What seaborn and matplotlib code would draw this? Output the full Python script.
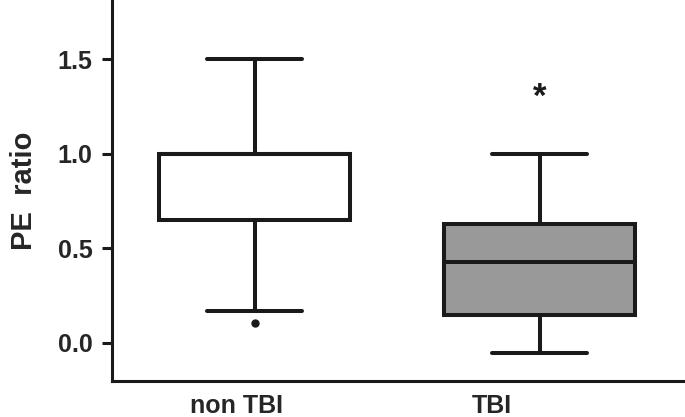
import matplotlib
matplotlib.use("Agg")
import matplotlib.pyplot as plt
import matplotlib.transforms as mtransforms
import seaborn as sns
import pandas as pd

# raw observations estimated so the box statistics match the figure
groups = ["non TBI", "TBI"]
non_tbi = [0.106, 0.165, 0.65, 0.80, 1.0, 1.0, 1.0, 1.20, 1.50]
tbi = [-0.057, 0.10, 0.144, 0.30, 0.426, 0.50, 0.63, 0.80, 1.0]
fills = ["#ffffff", "#999999"]
star_y = 1.335

df = pd.DataFrame({
    "group": [groups[0]] * len(non_tbi) + [groups[1]] * len(tbi),
    "ratio": non_tbi + tbi,
})

sns.set_style("ticks")
plt.rcParams["font.family"] = ["Liberation Sans", "DejaVu Sans"]
plt.rcParams["font.weight"] = "bold"

fig = plt.figure(figsize=(6.85, 4.17), dpi=100)
ax = fig.add_axes([0.1635, 0.086, 0.8365, 0.914])

ink = "#1a1a1a"
lw = 2.9
sns.boxplot(data=df, x="group", y="ratio", hue="group", palette=fills,
            order=groups, width=0.67, linewidth=lw, linecolor=ink,
            legend=False, ax=ax,
            flierprops=dict(marker="o", markersize=5, markerfacecolor=ink,
                            markeredgecolor=ink),
            medianprops=dict(color=ink, linewidth=lw),
            whiskerprops=dict(color=ink, linewidth=lw),
            capprops=dict(color=ink, linewidth=lw, solid_capstyle="round"),
            boxprops=dict(edgecolor=ink, linewidth=lw))

ax.annotate("*", (1, star_y), xytext=(0, -5), textcoords="offset points",
            ha="center", va="center", fontsize=25, fontweight="bold",
            color=ink)

ax.set_xlim(-0.5, 1.51)
ax.set_ylim(-0.204, 1.813)
ax.set_yticks([0.0, 0.5, 1.0, 1.5])
ax.set_yticklabels(["0.0", "0.5", "1.0", "1.5"])
ax.set_xlabel("")
ax.set_ylabel("PE  ratio", fontsize=21, fontweight="bold", labelpad=14)
ax.tick_params(axis="y", labelsize=18, length=7, width=2.2, color=ink,
               pad=7)
ax.tick_params(axis="x", labelsize=18, length=0, pad=9)
for lab in ax.get_xticklabels() + ax.get_yticklabels():
    lab.set_fontweight("bold")

# x labels sit a little left of the box centres in the original
for lab, dx in zip(ax.get_xticklabels(), [-18, -48]):
    lab.set_transform(lab.get_transform() +
                      mtransforms.ScaledTranslation(dx / 100, 0, fig.dpi_scale_trans))

sns.despine(ax=ax)
ax.spines["left"].set_linewidth(2.2)
ax.spines["bottom"].set_linewidth(2.2)
ax.spines["left"].set_color(ink)
ax.spines["bottom"].set_color(ink)

fig.savefig("out.png", dpi=100)
